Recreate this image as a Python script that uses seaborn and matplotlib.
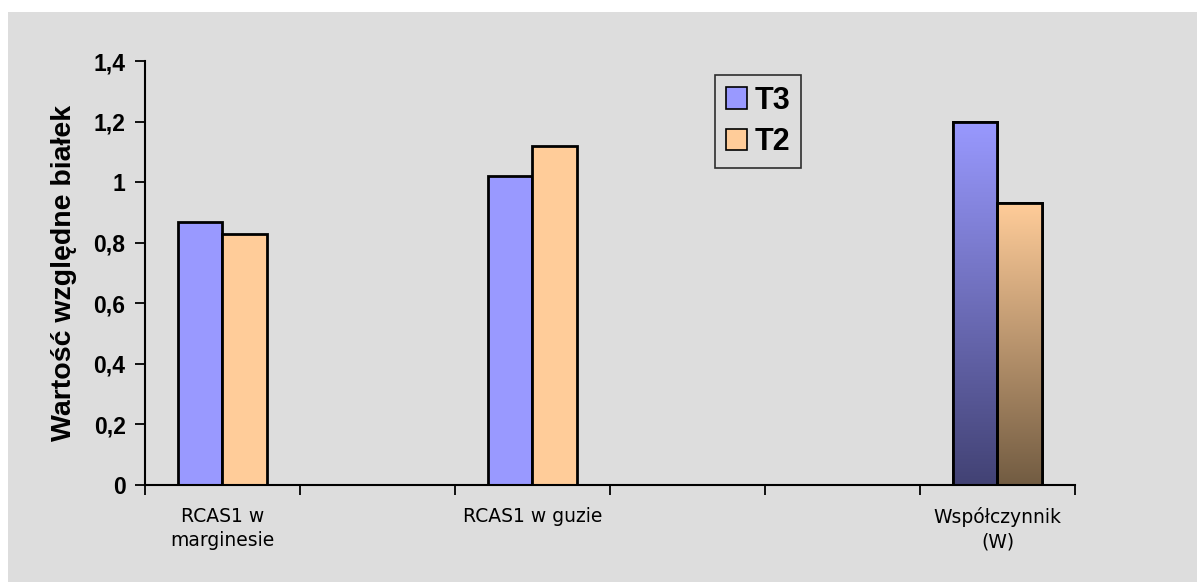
import numpy as np
import pandas as pd
import matplotlib
matplotlib.use("Agg")
import matplotlib.pyplot as plt
from matplotlib.patches import Rectangle, Patch
from matplotlib.colors import LinearSegmentedColormap
import seaborn as sns

# Data
categories = ["RCAS1 w\nmarginesie", "RCAS1 w guzie", "Współczynnik\n(W)"]
slot_order = ["RCAS1 w\nmarginesie", "_s1", "RCAS1 w guzie", "_s2", "_s3", "Współczynnik\n(W)"]
t3_values = [0.87, 1.02, 1.20]
t2_values = [0.83, 1.12, 0.93]
series = ["T3", "T2"]
y_ticks = [0, 0.2, 0.4, 0.6, 0.8, 1.0, 1.2, 1.4]
y_tick_labels = ["0", "0,2", "0,4", "0,6", "0,8", "1", "1,2", "1,4"]

colors = {"T3": "#9999ff", "T2": "#ffcc99"}
dark = {"T3": "#424274", "T2": "#725c42"}
bg = "#dddddd"

df = pd.DataFrame({
    "kategoria": categories * 2,
    "seria": ["T3"] * 3 + ["T2"] * 3,
    "wartosc": t3_values + t2_values,
})

sns.set_style("white")
plt.rcParams["font.family"] = ["DejaVu Sans"]
plt.rcParams["text.color"] = "black"
plt.rcParams["xtick.color"] = "black"
plt.rcParams["ytick.color"] = "black"
plt.rcParams["axes.labelcolor"] = "black"

fig = plt.figure(figsize=(11.97, 5.82), dpi=100)
fig.patch.set_facecolor("white")
fig.patches.append(Rectangle((8 / 1197, 0), 1, 1 - 12 / 582, transform=fig.transFigure,
                             facecolor=bg, edgecolor="none", zorder=-10))

ax = fig.add_axes([145 / 1197, 1 - 485 / 582, 930 / 1197, (485 - 61) / 582])
ax.set_facecolor(bg)
ax.patch.set_alpha(0)

sns.barplot(data=df, x="kategoria", y="wartosc", hue="seria", order=slot_order,
            hue_order=series, palette=colors, saturation=1, width=0.57, gap=0,
            edgecolor="black", linewidth=2, ax=ax, legend=False)

# vertical gradient fill for the last group
grad = np.linspace(0, 1, 256).reshape(-1, 1)
last = slot_order.index(categories[-1])
for bar in list(ax.patches):
    cx = bar.get_x() + bar.get_width() / 2
    if abs(cx - last) < 0.5 and bar.get_height() > 0:
        name = "T3" if cx < last else "T2"
        cmap = LinearSegmentedColormap.from_list(name, [dark[name], colors[name]])
        x0, w, h = bar.get_x(), bar.get_width(), bar.get_height()
        im = ax.imshow(grad, cmap=cmap, aspect="auto", origin="lower",
                       extent=[x0, x0 + w, 0, h], zorder=bar.get_zorder() + 0.1)
        im.set_clip_path(bar)
        edge = Rectangle((x0, 0), w, h, facecolor="none", edgecolor="black",
                         linewidth=2, zorder=bar.get_zorder() + 0.2)
        ax.add_patch(edge)
ax.set_xlim(-0.5, 5.5)
ax.set_ylim(0, 1.4)

for s in ["top", "right"]:
    ax.spines[s].set_visible(False)
for s in ["left", "bottom"]:
    ax.spines[s].set_linewidth(1.5)
    ax.spines[s].set_color("black")

# category boundaries as ticks, labels at slot centres
ax.set_xticks(np.arange(-0.5, 6.0, 1.0))
ax.set_xticklabels([])
ax.tick_params(axis="x", which="major", direction="out", length=7, width=1.3, bottom=True)
centers = [slot_order.index(c) for c in categories]
ax.set_xticks(centers, minor=True)
ax.set_xticklabels(categories, minor=True, fontsize=13.5, fontfamily="DejaVu Sans",
                   linespacing=1.35)
ax.tick_params(axis="x", which="minor", length=0, pad=16)

ax.set_yticks(y_ticks)
ax.set_yticklabels(y_tick_labels, fontsize=16.5, fontweight="bold", fontfamily="Liberation Sans")
ax.tick_params(axis="y", direction="out", length=7, width=1.3, left=True, pad=7)

ax.set_xlabel("")
ax.set_ylabel("Wartość względne białek", fontsize=20.5, fontweight="bold",
              fontfamily="Liberation Sans", labelpad=12)

handles = [Patch(facecolor=colors[s], edgecolor="black", linewidth=1.2, label=s) for s in series]
leg = ax.legend(handles=handles, loc="upper left", bbox_to_anchor=(715 / 1197, 1 - 75 / 582),
                bbox_transform=fig.transFigure, frameon=True, fancybox=False,
                prop={"family": "Liberation Sans", "weight": "bold", "size": 22},
                handlelength=0.7, handleheight=0.7, handletextpad=0.25,
                borderpad=0.35, labelspacing=0.38, borderaxespad=0)
leg.get_frame().set_edgecolor("black")
leg.get_frame().set_linewidth(1.2)
leg.get_frame().set_facecolor(bg)

fig.savefig("out.png", dpi=100, facecolor=fig.get_facecolor())
